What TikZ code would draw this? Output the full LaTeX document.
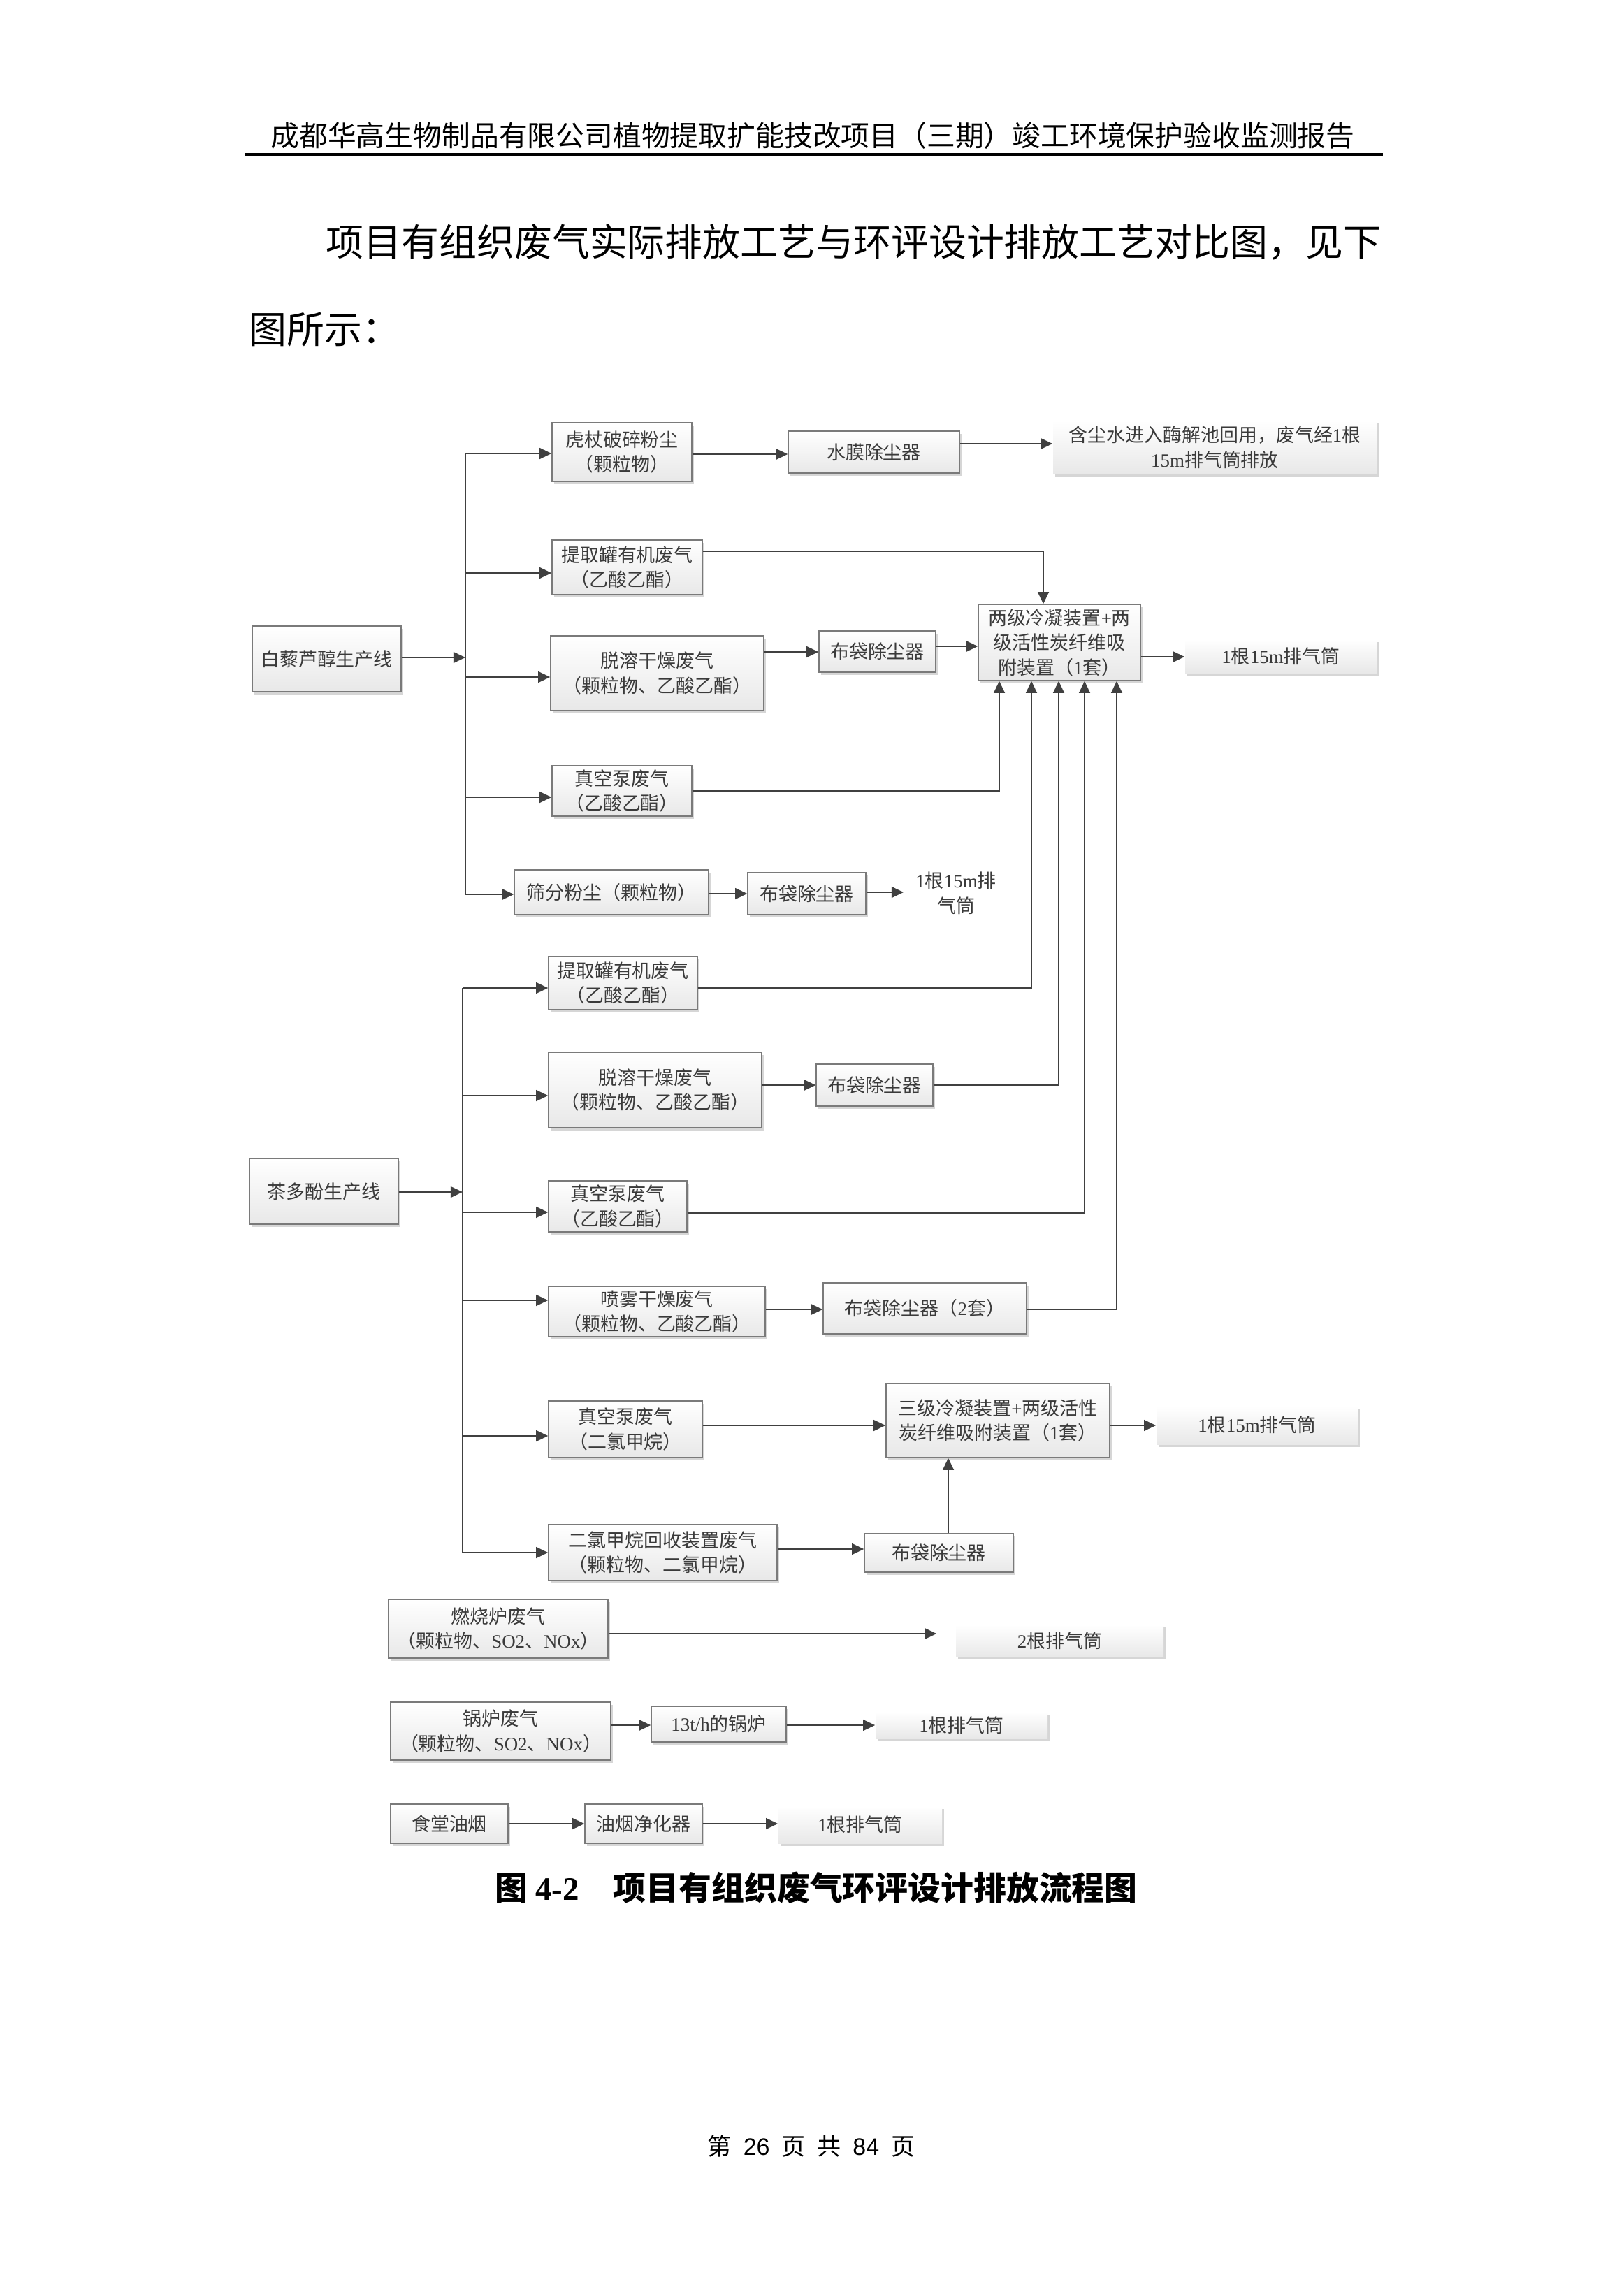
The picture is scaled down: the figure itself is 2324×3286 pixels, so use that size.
\documentclass[tikz,border=0pt]{standalone}
\usepackage{fontspec}
\setmainfont{Noto Sans CJK SC}
\newfontfamily\lat{Liberation Serif}
\newfontfamily\latsans{Liberation Sans}
\usetikzlibrary{arrows.meta,shadows,calc}
\newcommand\pxu{0.25602pt}
\definecolor{lnc}{HTML}{404040}
\definecolor{bdc}{HTML}{7A7A7A}
\definecolor{txc}{HTML}{3A3A3A}
\tikzset{
  nbase/.style={inner sep=0pt, align=center, text=txc,
    font=\fontsize{6.9pt}{9.1pt}\selectfont,
    top color=white, bottom color=black!9,
    drop shadow={shadow xshift=0.7pt, shadow yshift=-0.9pt, fill=black!16, opacity=1}},
  boxst/.style={nbase, draw=bdc, line width=0.35pt},
  softbox/.style={nbase},
  bare/.style={inner sep=0pt, align=center, text=txc, font=\fontsize{6.9pt}{9.1pt}\selectfont},
  arr/.style={draw=lnc, line width=0.65pt, -{Triangle[length=4.4pt,width=4pt]}},
  lnst/.style={draw=lnc, line width=0.65pt},
}
\newcommand\bx[7]{\node[#1, minimum width={(#4-#2)*\pxu}, minimum height={(#5-#3)*\pxu}] (#6) at ({(#2+#4)/2},{(#3+#5)/2}) {#7};}
\begin{document}
\begin{tikzpicture}[x=0.25602pt, y=-0.25602pt]
\useasboundingbox[fill=white] (0,0) rectangle (2324,3286);

% header
\node[inner sep=0pt, font=\fontsize{10.45pt}{13pt}\selectfont] (hdr) at (1163,194) {成都华高生物制品有限公司植物提取扩能技改项目（三期）竣工环境保护验收监测报告};
\coordinate (hl) at (351,221);
\coordinate (hr) at (1979,221);
\draw[line width=0.8pt] (hl) -- (hr);

% paragraph
\node[inner sep=0pt, anchor=west, font=\fontsize{13.8pt}{17pt}\selectfont] (p1) at (466,347) {项目有组织废气实际排放工艺与环评设计排放工艺对比图，见下};
\node[inner sep=0pt, anchor=west, font=\fontsize{13.8pt}{17pt}\selectfont] (p2) at (356,471) {图所示：};

% ---------- upper line ----------
\bx{boxst}{361}{896}{574}{990}{A0}{白藜芦醇生产线}
\bx{boxst}{790}{605}{990}{689}{A1}{虎杖破碎粉尘\\（颗粒物）}
\bx{boxst}{1128}{617}{1373}{677}{A1b}{水膜除尘器}
\bx{softbox}{1507}{602}{1970}{678}{A1c}{含尘水进入酶解池回用，废气经{\lat 1}根\\{\lat 15m}排气筒排放}
\bx{boxst}{790}{773}{1005}{851}{A2}{提取罐有机废气\\（乙酸乙酯）}
\bx{boxst}{1400}{865}{1632}{974}{K}{两级冷凝装置{\lat +}两\\级活性炭纤维吸\\附装置（{\lat 1}套）}
\bx{softbox}{1696}{915}{1970}{963}{K1}{{\lat 1}根{\lat 15m}排气筒}
\bx{boxst}{788}{910}{1093}{1017}{A3}{脱溶干燥废气\\（颗粒物、乙酸乙酯）}
\bx{boxst}{1172}{903}{1339}{962}{A3b}{布袋除尘器}
\bx{boxst}{790}{1096}{990}{1168}{A4}{真空泵废气\\（乙酸乙酯）}
\bx{boxst}{736}{1245}{1014}{1309}{A5}{筛分粉尘（颗粒物）}
\bx{boxst}{1070}{1249}{1239}{1309}{A5b}{布袋除尘器}
\node[bare] (A5c) at (1368,1278) {{\lat 1}根{\lat 15m}排\\气筒};
\coordinate (A5t) at (1293,1277);

\coordinate (t1a) at (666,649);
\coordinate (t1b) at (666,1280);
\draw[lnst] (t1a) -- (t1b);
\draw[arr] (A0.east |- 0,941) -- (t1a |- 0,941);
\draw[arr] (t1a) -- (A1.west |- t1a);
\draw[arr] (A1.east |- 0,650) -- (A1b.west |- 0,650);
\draw[arr] (A1b.east |- 0,635) -- (A1c.west |- 0,635);
\draw[arr] (t1a |- 0,820) -- (A2.west |- 0,820);
\draw[arr] (A2.east |- 0,789) -| (K.north -| 1493,0);
\draw[arr] (K.east |- 0,940) -- (K1.west |- 0,940);
\draw[arr] (t1a |- 0,969) -- (A3.west |- 0,969);
\draw[arr] (A3.east |- 0,933) -- (A3b.west |- 0,933);
\draw[arr] (A3b.east |- 0,925) -- (K.west |- 0,925);
\draw[arr] (t1a |- 0,1141) -- (A4.west |- 0,1141);
\draw[arr] (A4.east |- 0,1132) -| (K.south -| 1430,0);
\draw[arr] (t1b) -- (A5.west |- t1b);
\draw[arr] (A5.east |- 0,1279) -- (A5b.west |- 0,1279);
\draw[arr] (A5b.east |- 0,1277) -- (A5t);

% ---------- lower line ----------
\bx{boxst}{357}{1658}{570}{1752}{B0}{茶多酚生产线}
\bx{boxst}{785}{1369}{998}{1445}{B1}{提取罐有机废气\\（乙酸乙酯）}
\bx{boxst}{785}{1506}{1090}{1614}{B2}{脱溶干燥废气\\（颗粒物、乙酸乙酯）}
\bx{boxst}{1168}{1523}{1335}{1583}{B2b}{布袋除尘器}
\bx{boxst}{785}{1690}{983}{1763}{B3}{真空泵废气\\（乙酸乙酯）}
\bx{boxst}{785}{1841}{1095}{1913}{B4}{喷雾干燥废气\\（颗粒物、乙酸乙酯）}
\bx{boxst}{1178}{1836}{1469}{1909}{B4b}{布袋除尘器（{\lat 2}套）}
\bx{boxst}{785}{2005}{1005}{2086}{B5}{真空泵废气\\（二氯甲烷）}
\bx{boxst}{1268}{1980}{1588}{2086}{M}{三级冷凝装置{\lat +}两级活性\\炭纤维吸附装置（{\lat 1}套）}
\bx{softbox}{1655}{2012}{1943}{2067}{M1}{{\lat 1}根{\lat 15m}排气筒}
\bx{boxst}{785}{2182}{1112}{2262}{B6}{二氯甲烷回收装置废气\\（颗粒物、二氯甲烷）}
\bx{boxst}{1237}{2195}{1450}{2250}{B6b}{布袋除尘器}

\coordinate (t2a) at (662,1414);
\coordinate (t2b) at (662,2222);
\draw[lnst] (t2a) -- (t2b);
\draw[arr] (B0.east |- 0,1706) -- (t2a |- 0,1706);
\draw[arr] (t2a) -- (B1.west |- t2a);
\draw[arr] (B1.east |- 0,1414) -| (K.south -| 1476,0);
\draw[arr] (t2a |- 0,1568) -- (B2.west |- 0,1568);
\draw[arr] (B2.east |- 0,1553) -- (B2b.west |- 0,1553);
\draw[arr] (B2b.east |- 0,1553) -| (K.south -| 1515,0);
\draw[arr] (t2a |- 0,1735) -- (B3.west |- 0,1735);
\draw[arr] (B3.east |- 0,1736) -| (K.south -| 1552,0);
\draw[arr] (t2a |- 0,1861) -- (B4.west |- 0,1861);
\draw[arr] (B4.east |- 0,1874) -- (B4b.west |- 0,1874);
\draw[arr] (B4b.east |- 0,1874) -| (K.south -| 1598,0);
\draw[arr] (t2a |- 0,2055) -- (B5.west |- 0,2055);
\draw[arr] (B5.east |- 0,2040) -- (M.west |- 0,2040);
\draw[arr] (M.east |- 0,2040) -- (M1.west |- 0,2040);
\draw[arr] (t2b) -- (B6.west |- t2b);
\draw[arr] (B6.east |- 0,2217) -- (B6b.west |- 0,2217);
\draw[arr] (B6b.north -| 1357,0) -- (M.south -| 1357,0);

% ---------- other sources ----------
\bx{boxst}{556}{2289}{870}{2373}{C1}{燃烧炉废气\\（颗粒物、{\lat SO2}、{\lat NOx}）}
\bx{softbox}{1368}{2325}{1665}{2371}{C1b}{{\lat 2}根排气筒}
\draw[arr, shorten >=6.9pt] (C1.east |- 0,2338) -- (C1b.west |- 0,2338);

\bx{boxst}{559}{2436}{874}{2519}{C2}{锅炉废气\\（颗粒物、{\lat SO2}、{\lat NOx}）}
\bx{boxst}{932}{2442}{1125}{2493}{C2b}{{\lat 13t/h}的锅炉}
\bx{softbox}{1253}{2450}{1499}{2488}{C2c}{{\lat 1}根排气筒}
\draw[arr] (C2.east |- 0,2469) -- (C2b.west |- 0,2469);
\draw[arr] (C2b.east |- 0,2469) -- (C2c.west |- 0,2469);

\bx{boxst}{559}{2582}{727}{2638}{C3}{食堂油烟}
\bx{boxst}{837}{2582}{1005}{2638}{C3b}{油烟净化器}
\bx{softbox}{1114}{2585}{1348}{2638}{C3c}{{\lat 1}根排气筒}
\draw[arr] (C3.east |- 0,2610) -- (C3b.west |- 0,2610);
\draw[arr] (C3b.east |- 0,2610) -- (C3c.west |- 0,2610);

% caption and footer
\node[inner sep=0pt, anchor=west, font=\fontsize{12pt}{14pt}\selectfont\bfseries] (cap1) at (708,2702) {图 {\lat 4-2}};
\node[inner sep=0pt, anchor=west, font=\fontsize{12pt}{14pt}\selectfont\bfseries] (cap2) at (877,2702) {项目有组织废气环评设计排放流程图};
\node[inner sep=0pt, font=\fontsize{8.7pt}{11pt}\selectfont] (ft) at (1161,3072) {第\hspace{0.5em}{\latsans 26}\hspace{0.5em}页\hspace{0.5em}共\hspace{0.5em}{\latsans 84}\hspace{0.5em}页};
\end{tikzpicture}
\end{document}
